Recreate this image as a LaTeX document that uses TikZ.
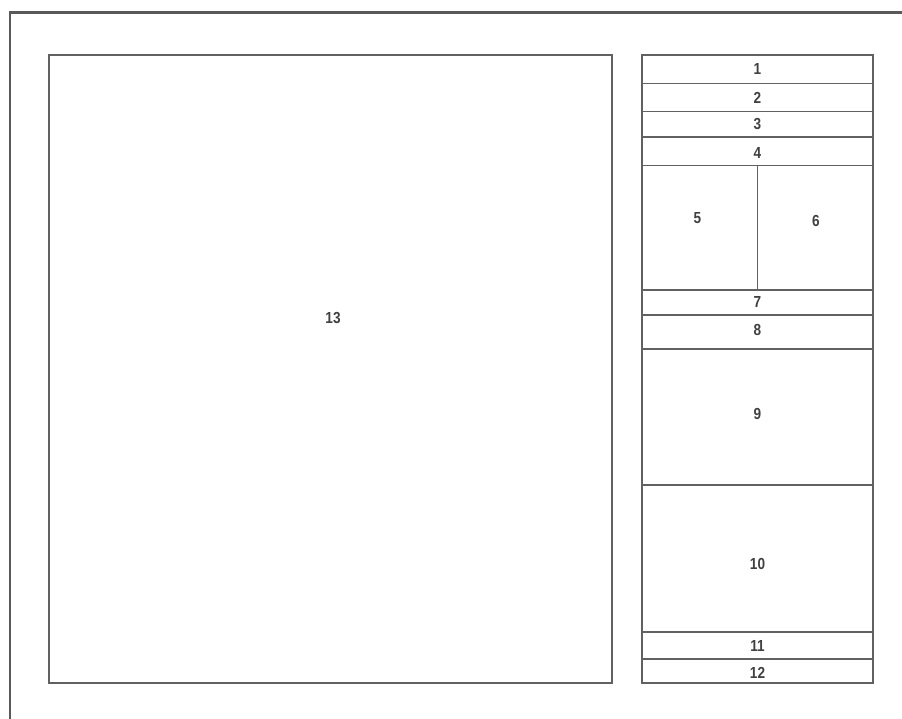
\documentclass[tikz,border=0pt]{standalone}
\usepackage{fontspec}
\setmainfont{Liberation Sans}
\newfontfamily\lblfont[FakeStretch=0.85]{Liberation Sans}
\begin{document}
\begin{tikzpicture}[x=0.75pt,y=-0.75pt,
  frame/.style={draw=black!65,line width=1.6pt},
  cellline/.style={draw=black!62,line width=0.9pt},
  lbl/.style={font=\lblfont\bfseries\fontsize{12}{14}\selectfont,text=black!75,inner sep=0pt}]
\useasboundingbox (0,0) rectangle (902,718);
\fill[white] (0,0) rectangle (902,718);
% outer frame (extends beyond the picture at right and bottom)
\coordinate (fa) at (10,720);
\coordinate (fb) at (10,12.5);
\coordinate (fc) at (904,12.5);
\draw[frame] (fa) -- (fb) -- (fc);
% big area
\draw[cellline] (49,55) rectangle (612,683);
\node[lbl] (n13) at (333,318) {13};
% right column
\draw[cellline] (642,55) rectangle (873,683);
\foreach \y in {83.5,111.5,137,165.5,290,315,349,485,632,659}
  \draw[cellline] (642,\y) -- (873,\y);
\draw[cellline] (757.5,165.5) -- (757.5,290);
\node[lbl] (n1) at (757.5,69) {1};
\node[lbl] (n2) at (757.5,98) {2};
\node[lbl] (n3) at (757.5,123.5) {3};
\node[lbl] (n4) at (757.5,153) {4};
\node[lbl] (n5) at (697.5,218.5) {5};
\node[lbl] (n6) at (816,221) {6};
\node[lbl] (n7) at (757.5,302) {7};
\node[lbl] (n8) at (757.5,329.5) {8};
\node[lbl] (n9) at (757.5,414) {9};
\node[lbl] (n10) at (757.5,564) {10};
\node[lbl] (n11) at (757.5,646) {11};
\node[lbl] (n12) at (757.5,673) {12};
\end{tikzpicture}
\end{document}
